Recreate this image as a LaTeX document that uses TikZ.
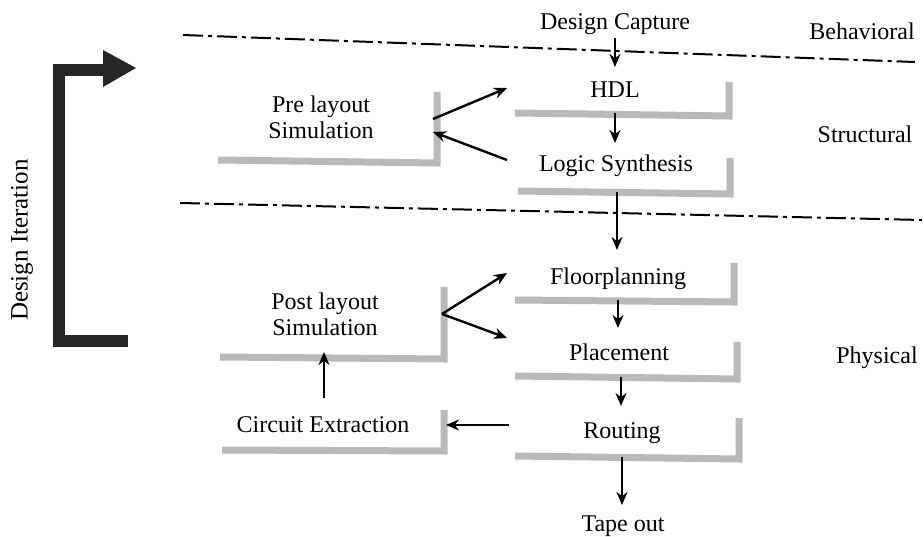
\documentclass[tikz,border=0pt]{standalone}
\usepackage{fontspec}
\setmainfont{Liberation Serif}
\usetikzlibrary{arrows.meta}
\begin{document}
\begin{tikzpicture}[x=1pt,y=-1pt,
  lbl/.style={font=\fontsize{24}{26}\selectfont, inner sep=0pt, anchor=base},
  shadebar/.style={draw=gray!55, line width=7pt, line join=miter},
  flow/.style={draw=black, line width=2.4pt, -{Stealth[length=13pt,width=11pt]}},
  phase/.style={draw=black, line width=2pt, dash pattern=on 20pt off 5pt on 4pt off 5pt},
  iter/.style={draw=black!85, line width=12pt, line join=miter}]
\useasboundingbox (0,0) rectangle (924,537);

% phase separators
\coordinate (l1a) at (183,35); \coordinate (l1b) at (915,62);
\coordinate (l2a) at (180,203); \coordinate (l2b) at (922,220);
\draw[phase] (l1a) -- (l1b);
\draw[phase] (l2a) -- (l2b);

% level labels
\node[lbl] (beh) at (862,40) {Behavioral};
\node[lbl] (str) at (865,143) {Structural};
\node[lbl] (phy) at (877,363) {Physical};

% main flow texts
\node[lbl] (dc) at (615,30) {Design Capture};
\node[lbl] (hdl) at (615,98) {HDL};
\node[lbl] (ls) at (616,172) {Logic Synthesis};
\node[lbl] (fp) at (618,285) {Floorplanning};
\node[lbl] (pl) at (619,360) {Placement};
\node[lbl] (rt) at (622,438) {Routing};
\node[lbl] (to) at (623,531) {Tape out};

% side texts
\node[lbl] (pre1) at (321,113) {Pre layout};
\node[lbl] (pre2) at (321,139) {Simulation};
\node[lbl] (post1) at (325,310) {Post layout};
\node[lbl] (post2) at (325,336) {Simulation};
\node[lbl] (ce) at (323,432) {Circuit Extraction};

% shadow brackets
\draw[shadebar] (515,113) -- (729,116) -- (729,82);
\draw[shadebar] (518,191) -- (730,194) -- (730,158);
\draw[shadebar] (515,300) -- (734,302) -- (734,263);
\draw[shadebar] (515,376) -- (737,379) -- (737,342);
\draw[shadebar] (515,456) -- (739,459) -- (739,418);
\draw[shadebar] (218,160) -- (437,163) -- (437,92);
\draw[shadebar] (220,357) -- (444,359) -- (444,287);
\draw[shadebar] (222,450) -- (444,451) -- (444,410);

% connection points
\coordinate (dcs) at (615,38);  \coordinate (hdln) at (615,67);
\coordinate (hdls) at (615,113); \coordinate (lsn) at (615,143);
\coordinate (lss) at (617,192); \coordinate (fpn) at (617,250);
\coordinate (fps) at (618,300); \coordinate (pln) at (618,328);
\coordinate (pls) at (621,377); \coordinate (rtn) at (621,406);
\coordinate (rts) at (622,457); \coordinate (ton) at (622,505);
\coordinate (preo) at (433,119); \coordinate (hdlw) at (507,88);
\coordinate (lsw) at (507,160); \coordinate (prei) at (433,132);
\coordinate (posto) at (442,314); \coordinate (fpw) at (507,273);
\coordinate (plw) at (507,338);
\coordinate (rtw) at (509,425); \coordinate (cee) at (446,425);
\coordinate (cen) at (324,398); \coordinate (posts) at (324,352);

% flow arrows
\draw[flow] (dcs) -- (hdln);
\draw[flow] (hdls) -- (lsn);
\draw[flow] (lss) -- (fpn);
\draw[flow] (fps) -- (pln);
\draw[flow] (pls) -- (rtn);
\draw[flow] (rts) -- (ton);
\draw[flow] (preo) -- (hdlw);
\draw[flow] (lsw) -- (prei);
\draw[flow] (posto) -- (fpw);
\draw[flow] (posto) -- (plw);
\draw[flow] (rtw) -- (cee);
\draw[flow] (cen) -- (posts);

% design iteration
\coordinate (itb) at (128,341); \coordinate (itbl) at (59,341);
\coordinate (ittl) at (59,70); \coordinate (itt) at (104,70);
\draw[iter] (itb) -- (itbl) -- (ittl) -- (itt);
\fill[black!85] (103,50) -- (136,68) -- (103,87) -- cycle;
\node[font=\fontsize{25}{27}\selectfont, inner sep=0pt, rotate=90] (di) at (22,240) {Design Iteration};
\end{tikzpicture}
\end{document}
